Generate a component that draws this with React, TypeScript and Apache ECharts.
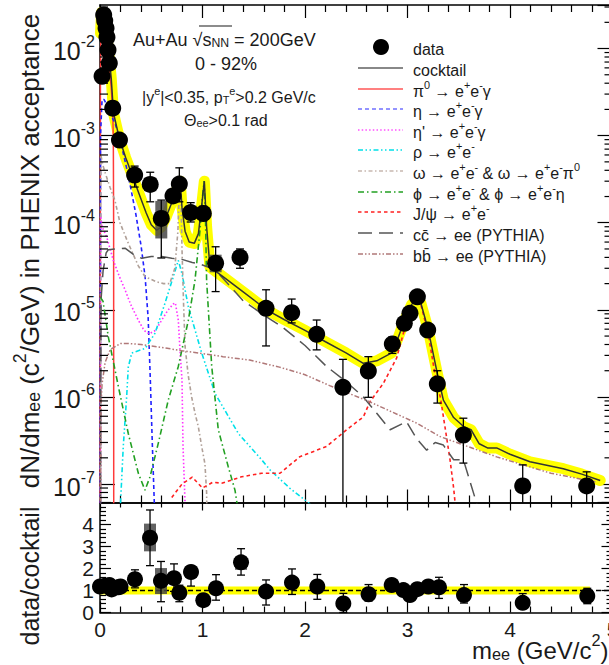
import React, { useEffect, useRef } from 'react';
import * as echarts from 'echarts';

const FONT = '"Liberation Sans", Arial, Helvetica, sans-serif';
const TXT = '#1a1a1a';

// ---------------- data ----------------
const dataX = [0.020, 0.036, 0.046, 0.059, 0.068, 0.078, 0.091, 0.124, 0.190, 0.338, 0.490, 0.598, 0.712, 0.774, 0.885, 1.008, 1.128, 1.366, 1.620, 1.870, 2.114, 2.370, 2.618, 2.852, 2.969, 3.024, 3.096, 3.197, 3.291, 3.545, 4.124, 4.748];
const dataY = [4.8e-3, 2.43e-2, 2.09e-2, 1.71e-2, 1.35e-2, 9.6e-3, 6.8e-3, 2.07e-3, 8.9e-4, 3.53e-4, 2.75e-4, 1.12e-4, 2.03e-4, 2.78e-4, 1.31e-4, 1.28e-4, 3.42e-5, 4.0e-5, 1.04e-5, 9.27e-6, 5.24e-6, 1.29e-6, 1.98e-6, 4.05e-6, 7.0e-6, 9.12e-6, 1.41e-5, 5.86e-6, 1.41e-6, 3.65e-7, 9.5e-8, 9.5e-8];
const dataErrLo = [4.3e-3, 2.33e-2, 2.0e-2, 1.63e-2, 1.28e-2, 9.1e-3, 6.4e-3, 1.97e-3, 8.5e-4, 2.57e-4, 1.74e-4, 3.94e-5, 1.8e-4, 1.74e-4, 1.02e-4, 1.05e-4, 1.62e-5, 3.0e-5, 3.85e-6, 7.08e-6, 3.47e-6, 1e-9, 9.9e-7, 3.16e-6, 6.3e-6, 8.4e-6, 1.33e-5, 5.4e-6, 8.5e-7, 1.74e-7, 1e-9, 1e-9];
const dataErrHi = [5.3e-3, 2.53e-2, 2.18e-2, 1.79e-2, 1.42e-2, 1.01e-2, 7.2e-3, 2.17e-3, 9.3e-4, 4.47e-4, 3.8e-4, 1.82e-4, 2.26e-4, 4.27e-4, 1.7e-4, 1.55e-4, 5.3e-5, 5.0e-5, 1.7e-5, 1.33e-5, 7.64e-6, 2.7e-6, 2.9e-6, 4.9e-6, 7.7e-6, 9.9e-6, 1.5e-5, 6.4e-6, 2.0e-6, 5.7e-7, 1.66e-7, 1.38e-7];
const sysX = [0.490, 0.598, 1.128, 1.366];
const sysLo = [2.3e-4, 6.6e-5, 2.7e-5, 3.5e-5];
const sysHi = [3.3e-4, 1.78e-4, 4.3e-5, 4.6e-5];

const cocktailX = [0.005, 0.015, 0.03, 0.05, 0.07, 0.09, 0.11, 0.125, 0.135, 0.16, 0.19, 0.25, 0.3, 0.378, 0.45, 0.5, 0.553, 0.6, 0.65, 0.7, 0.74, 0.765, 0.782, 0.8, 0.83, 0.87, 0.92, 0.96, 0.99, 1.018, 1.04, 1.073, 1.2, 1.4, 1.626, 1.8, 2.0, 2.114, 2.2, 2.4, 2.569, 2.7, 2.846, 2.9, 2.97, 3.04, 3.09, 3.13, 3.203, 3.285, 3.35, 3.45, 3.55, 3.62, 3.7, 3.78, 3.87, 4.0, 4.195, 4.52, 4.7, 4.88];
const cocktailY = [1.5e-2, 2.6e-2, 2.5e-2, 1.9e-2, 1.3e-2, 8.0e-3, 4.5e-3, 2.4e-3, 1.75e-3, 1.3e-3, 9.2e-4, 5.6e-4, 3.9e-4, 2.2e-4, 1.3e-4, 9.5e-5, 8.2e-5, 9.0e-5, 1.2e-4, 1.7e-4, 2.2e-4, 2.8e-4, 3.0e-4, 1.5e-4, 8.0e-5, 6.0e-5, 5.8e-5, 7.5e-5, 1.5e-4, 3.0e-4, 9.0e-5, 3.1e-5, 2.4e-5, 1.6e-5, 1.0e-5, 7.7e-6, 5.8e-6, 4.9e-6, 4.3e-6, 3.2e-6, 2.43e-6, 2.6e-6, 3.2e-6, 4.5e-6, 7.5e-6, 1.15e-5, 1.32e-5, 1.2e-5, 5.86e-6, 2.0e-6, 9.2e-7, 5.8e-7, 4.55e-7, 4.2e-7, 2.9e-7, 2.6e-7, 2.6e-7, 2.2e-7, 1.8e-7, 1.5e-7, 1.3e-7, 1.1e-7];

const pi0X = [0.002, 0.004, 0.008, 0.015, 0.03, 0.05, 0.07, 0.09, 0.11, 0.125, 0.13, 0.133, 0.1345];
const pi0Y = [1e-9, 4e-3, 1.6e-2, 2.4e-2, 2.3e-2, 1.7e-2, 1.1e-2, 6.5e-3, 3.5e-3, 1.8e-3, 9e-4, 1e-4, 1e-9];

const etaX = [0.002, 0.005, 0.02, 0.04, 0.07, 0.1, 0.15, 0.2, 0.25, 0.3, 0.35, 0.4, 0.44, 0.47, 0.49, 0.51, 0.53, 0.545];
const etaY = [1e-9, 1.0e-3, 2.6e-3, 2.6e-3, 2.2e-3, 1.8e-3, 1.35e-3, 8.5e-4, 4.8e-4, 2.5e-4, 1.25e-4, 5.5e-5, 2.4e-5, 8e-6, 1.7e-6, 3e-7, 6e-8, 1e-9];

const etapX = [0.003, 0.006, 0.02, 0.065, 0.13, 0.19, 0.244, 0.3, 0.374, 0.43, 0.478, 0.54, 0.602, 0.66, 0.715, 0.735, 0.764, 0.78, 0.8, 0.81, 0.83, 0.84];
const etapY = [1e-9, 1.2e-4, 9e-5, 6.9e-5, 3.7e-5, 2.4e-5, 1.7e-5, 1.15e-5, 7.6e-6, 5.8e-6, 5.3e-6, 5.8e-6, 7.6e-6, 9.8e-6, 1.17e-5, 1.2e-5, 7.6e-6, 3.5e-6, 1.56e-6, 2.7e-7, 6e-8, 1e-9];

const rhoX = [0.19, 0.2, 0.227, 0.26, 0.276, 0.31, 0.44, 0.537, 0.634, 0.715, 0.764, 0.8, 0.862, 0.992, 1.122, 1.35, 1.577, 1.66, 1.85, 2.08];
const rhoY = [1e-9, 6e-8, 2.7e-7, 1e-6, 2.2e-6, 3.2e-6, 3.6e-6, 5.4e-6, 1.19e-5, 2.4e-5, 3.7e-5, 2.6e-5, 1.08e-5, 3.2e-6, 1.1e-6, 3.8e-7, 1.9e-7, 1.45e-7, 9e-8, 5.5e-8];

const omegaX = [0.003, 0.008, 0.03, 0.052, 0.1, 0.146, 0.195, 0.276, 0.374, 0.44, 0.55, 0.62, 0.68, 0.73, 0.76, 0.775, 0.783, 0.79, 0.8, 0.815, 0.83, 0.86, 0.894, 0.927, 0.96, 0.992, 1.024, 1.04, 1.06];
const omegaY = [1e-9, 6e-4, 4.5e-4, 3.7e-4, 2.5e-4, 1.8e-4, 1.0e-4, 5.8e-5, 3.2e-5, 2.4e-5, 2.1e-5, 2.0e-5, 2.0e-5, 3.0e-5, 8e-5, 2.5e-4, 2.9e-4, 2.0e-4, 5e-5, 1.2e-5, 3.8e-6, 1.8e-6, 1.0e-6, 6.5e-7, 4.5e-7, 2.7e-7, 1.7e-7, 8e-8, 1e-9];

const phiX = [0.003, 0.03, 0.081, 0.179, 0.276, 0.374, 0.439, 0.488, 0.569, 0.666, 0.764, 0.862, 0.927, 0.976, 1.0, 1.016, 1.03, 1.04, 1.09, 1.154, 1.25, 1.317, 1.36];
const phiY = [1.4e-5, 1.25e-5, 4.9e-6, 1.32e-6, 3.8e-7, 1.33e-7, 8.5e-8, 1.21e-7, 2.95e-7, 9.2e-7, 2.24e-6, 7.6e-6, 2.2e-5, 8.3e-5, 2.0e-4, 3.0e-4, 1.0e-4, 2.2e-5, 2.24e-6, 4.2e-7, 1.6e-7, 8.5e-8, 4e-8];

const jpsiX = [0.7, 0.8, 0.9, 1.0, 1.1, 1.187, 1.38, 1.577, 1.756, 1.95, 2.21, 2.407, 2.569, 2.634, 2.764, 2.894, 2.96, 3.0, 3.057, 3.096, 3.13, 3.2, 3.28, 3.32, 3.366, 3.415, 3.45, 3.48];
const jpsiY = [7e-8, 1.0e-7, 1.2e-7, 9e-8, 1.05e-7, 1.02e-7, 1.21e-7, 1.33e-7, 1.33e-7, 2.06e-7, 2.7e-7, 4.2e-7, 5.9e-7, 8.8e-7, 1.43e-6, 2.8e-6, 5.4e-6, 7.5e-6, 1.25e-5, 1.3e-5, 1.15e-5, 5.5e-6, 1.5e-6, 1.0e-6, 4.5e-7, 1.9e-7, 9e-8, 4e-8];

const ccX = [0.003, 0.01, 0.03, 0.06, 0.081, 0.15, 0.244, 0.33, 0.407, 0.5, 0.602, 0.7, 0.8, 0.9, 0.992, 1.122, 1.4, 1.6, 1.79, 2.0, 2.21, 2.4, 2.569, 2.7, 2.83, 2.99, 3.09, 3.187, 3.27, 3.35, 3.45, 3.545, 3.675, 3.75];
const ccY = [1e-8, 1.3e-5, 2.8e-5, 4.5e-5, 4.9e-5, 5.0e-5, 5.1e-5, 4.3e-5, 3.9e-5, 4.1e-5, 4.1e-5, 3.9e-5, 3.8e-5, 3.5e-5, 3.3e-5, 2.9e-5, 1.26e-5, 8.7e-6, 6.2e-6, 3.9e-6, 2.24e-6, 1.5e-6, 1.0e-6, 6.5e-7, 4.2e-7, 5.2e-7, 3.3e-7, 2.45e-7, 3.0e-7, 2.8e-7, 1.9e-7, 1.9e-7, 6e-8, 3e-8];

const bbX = [0.003, 0.01, 0.02, 0.05, 0.1, 0.2, 0.276, 0.4, 0.6, 0.8, 1.0, 1.2, 1.46, 1.75, 2.0, 2.24, 2.63, 3.09, 3.32, 3.87, 4.4, 4.85];
const bbY = [1e-8, 8e-7, 1.4e-6, 2.5e-6, 3.5e-6, 4.1e-6, 4.1e-6, 4.0e-6, 3.7e-6, 3.4e-6, 3.15e-6, 2.9e-6, 2.65e-6, 2.2e-6, 1.8e-6, 1.35e-6, 8.8e-7, 5.0e-7, 3.5e-7, 2.05e-7, 1.33e-7, 1.05e-7];

const ratioX = [0.0, 0.049, 0.091, 0.114, 0.179, 0.2, 0.341, 0.488, 0.595, 0.722, 0.774, 0.888, 1.008, 1.132, 1.376, 1.62, 1.873, 2.12, 2.374, 2.62, 2.846, 2.96, 3.024, 3.096, 3.203, 3.307, 3.551, 4.124, 4.754];
const ratioY = [1.18, 1.22, 1.25, 1.05, 1.15, 1.18, 1.51, 3.4, 1.44, 1.56, 0.9, 1.84, 0.56, 1.1, 2.28, 0.95, 1.36, 1.18, 0.41, 0.83, 1.25, 1.02, 0.79, 1.06, 1.18, 1.15, 0.79, 0.44, 0.75];
const ratioErrLo = [1.1, 1.15, 1.18, 0.98, 1.08, 1.11, 1.12, 2.13, 0.49, 0.96, 0.49, 1.2, 0.45, 0.56, 1.7, 0.34, 0.82, 0.6, 0.0, 0.52, 1.15, 0.95, 0.72, 1.0, 1.1, 0.64, 0.43, 0.3, 0.4];
const ratioErrHi = [1.26, 1.29, 1.32, 1.12, 1.22, 1.25, 1.94, 4.66, 2.32, 2.21, 1.24, 2.12, 0.67, 1.72, 2.9, 1.48, 1.98, 1.73, 0.87, 1.27, 1.35, 1.09, 0.86, 1.12, 1.26, 1.6, 1.27, 0.86, 1.1];
const ratioSysX = [0.488, 0.595, 0.888, 1.376];
const ratioSysLo = [2.78, 0.84, 1.58, 1.94];
const ratioSysHi = [4.04, 2.02, 2.08, 2.55];
const ratioBandX = [0.0, 4.78];
const ratioBandY = [1, 1];
const unityX = [0, 5];
const unityY = [1, 1];

const xTicks = [0, 1, 2, 3, 4, 5];
const yTickExps = [-7, -6, -5, -4, -3, -2];
const ratioTicks = [0, 1, 2, 3, 4];
const minorMantissas = [2, 3, 4, 5, 6, 7, 8, 9];

const legendLabels = [
  'data',
  'cocktail',
  'π^{0} → e^{+}e^{-}γ',
  'η → e^{+}e^{-}γ',
  "η' → e^{+}e^{-}γ",
  'ρ → e^{+}e^{-}',
  'ω → e^{+}e^{-} & ω → e^{+}e^{-}π^{0}',
  'ϕ → e^{+}e^{-} & ϕ → e^{+}e^{-}η',
  'J/ψ → e^{+}e^{-}',
  'cc̄ → ee (PYTHIA)',
  'bb̄ → ee (PYTHIA)',
];

// ---------------- styles ----------------
const YMIN = Math.pow(10, -7.212);
const YMAX = Math.pow(10, -1.5);
const GL = 100, GT = 5, GW = 512.5, H1 = 497.5, H2 = 110;

const compStyles: Record<string, { color: string; dash: any; width: number }> = {
  cocktail: { color: '#333333', dash: 'solid', width: 1.5 },
  pi0: { color: '#ff3a3a', dash: 'solid', width: 1.5 },
  eta: { color: '#2020ff', dash: [4, 3], width: 1.6 },
  etap: { color: '#ff30ff', dash: [1.5, 2.2], width: 1.6 },
  rho: { color: '#00e0e8', dash: [5, 2.5, 1.5, 2.5, 1.5, 2.5], width: 1.6 },
  omega: { color: '#b0a098', dash: [4, 2.5, 1.5, 2.5], width: 1.6 },
  phi: { color: '#22a022', dash: [6, 3, 1.5, 3], width: 1.6 },
  jpsi: { color: '#ff2020', dash: [3.5, 3], width: 1.6 },
  cc: { color: '#555555', dash: [14, 7], width: 1.5 },
  bb: { color: '#b07878', dash: [5, 2, 1.5, 2, 1.5, 2], width: 1.5 },
};
const legendStyleKeys = ['data', 'cocktailLeg', 'pi0Leg', 'etaLeg', 'etapLeg', 'rho', 'omegaLeg', 'phi', 'jpsi', 'cc', 'bb'];
const legendStyles: Record<string, { color: string; dash: any; width: number }> = {
  ...compStyles,
  cocktailLeg: { color: '#888888', dash: 'solid', width: 2.2 },
  pi0Leg: { color: '#ff8080', dash: 'solid', width: 2.2 },
  etaLeg: { color: '#7070ff', dash: [4, 3], width: 1.6 },
  etapLeg: { color: '#ff50ff', dash: [1.5, 2.2], width: 1.6 },
  omegaLeg: { color: '#c8b8b0', dash: [4, 2.5, 1.5, 2.5], width: 1.6 },
};

const zip = (xs: number[], ys: number[]) => xs.map((x, i) => [x, ys[i]]);

function toRich(s: string): string {
  let out = '';
  let buf = '';
  let i = 0;
  while (i < s.length) {
    if ((s[i] === '^' || s[i] === '_') && s[i + 1] === '{') {
      if (buf) { out += `{n|${buf}}`; buf = ''; }
      const end = s.indexOf('}', i);
      out += `{${s[i] === '^' ? 'sup' : 'sub'}|${s.slice(i + 2, end)}}`;
      i = end + 1;
    } else {
      buf += s[i];
      i++;
    }
  }
  if (buf) out += `{n|${buf}}`;
  return out;
}

function richStyles(size: number, color = TXT) {
  return {
    n: { fontSize: size, lineHeight: size * 1.25, verticalAlign: 'bottom', fontFamily: FONT, fill: color, color },
    sup: { fontSize: size * 0.68, lineHeight: size * 0.68, verticalAlign: 'top', fontFamily: FONT, fill: color, color },
    sub: { fontSize: size * 0.68, lineHeight: size * 0.7, verticalAlign: 'bottom', fontFamily: FONT, fill: color, color },
  };
}

function textEl(s: string, x: number, y: number, size: number, align = 'left', rotation = 0) {
  return {
    type: 'text',
    x, y, rotation,
    silent: true,
    style: {
      text: toRich(s),
      rich: richStyles(size),
      fill: TXT,
      fontSize: size,
      fontFamily: FONT,
      textAlign: align,
      textVerticalAlign: 'middle',
      verticalAlign: 'middle',
    },
  };
}

function lineSeries(name: string, xs: number[], ys: number[], st: { color: string; dash: any; width: number }, z = 3) {
  return {
    type: 'line', name, xAxisIndex: 0, yAxisIndex: 0,
    data: zip(xs, ys), showSymbol: false, symbol: 'none', smooth: false, clip: true, z,
    lineStyle: { color: st.color, type: st.dash, width: st.width },
    silent: true,
  };
}

function errorBarSeries(xs: number[], lo: number[], hi: number[], xi: number, yi: number, cap: number) {
  return {
    type: 'custom', xAxisIndex: xi, yAxisIndex: yi, silent: true, z: 8,
    data: xs.map((x, i) => [x, lo[i], hi[i]]),
    encode: { x: 0, y: [1, 2] },
    renderItem: (params: any, api: any) => {
      const x = api.value(0);
      const pLo = api.coord([x, api.value(1)]);
      const pHi = api.coord([x, api.value(2)]);
      const cs = params.coordSys;
      const bottom = cs.y + cs.height;
      const top = cs.y;
      let yLo = pLo[1];
      let yHi = pHi[1];
      let capLo = true;
      let capHi = true;
      if (!isFinite(yLo) || yLo > bottom) { yLo = bottom; capLo = false; }
      if (yHi < top) { yHi = top; capHi = false; }
      const px = pLo[0];
      const st = { stroke: '#000', lineWidth: 1.3 };
      const ch: any[] = [{ type: 'line', shape: { x1: px, y1: yLo, x2: px, y2: yHi }, style: st }];
      if (capLo) ch.push({ type: 'line', shape: { x1: px - cap, y1: yLo, x2: px + cap, y2: yLo }, style: st });
      if (capHi) ch.push({ type: 'line', shape: { x1: px - cap, y1: yHi, x2: px + cap, y2: yHi }, style: st });
      return { type: 'group', children: ch };
    },
  };
}

function sysBoxSeries(xs: number[], lo: number[], hi: number[], xi: number, yi: number, half: number) {
  return {
    type: 'custom', xAxisIndex: xi, yAxisIndex: yi, silent: true, z: 7,
    data: xs.map((x, i) => [x, lo[i], hi[i]]),
    encode: { x: 0, y: [1, 2] },
    renderItem: (params: any, api: any) => {
      const x = api.value(0);
      const pLo = api.coord([x, api.value(1)]);
      const pHi = api.coord([x, api.value(2)]);
      return {
        type: 'rect',
        shape: { x: pLo[0] - half, y: pHi[1], width: half * 2, height: pLo[1] - pHi[1] },
        style: { fill: 'rgba(70,70,70,0.85)' },
      };
    },
  };
}

function xAxis(gi: number, pos: string, showLabel: boolean, major: number, minor: number) {
  return {
    type: 'value', gridIndex: gi, position: pos, min: xTicks[0], max: xTicks[xTicks.length - 1], interval: 1,
    axisLine: { show: true, onZero: false, lineStyle: { color: '#000', width: 1.5 } },
    axisTick: { show: true, inside: true, length: major, lineStyle: { color: '#000', width: 1.2 } },
    minorTick: { show: true, splitNumber: 5, length: minor, lineStyle: { color: '#000', width: 1.2 } },
    splitLine: { show: false },
    axisLabel: {
      show: showLabel, margin: 7, fontSize: 21, lineHeight: 20, fontFamily: FONT, color: TXT,
      formatter: (v: number) => (xTicks.includes(Math.round(v)) ? String(Math.round(v)) : ''),
    },
  };
}

function logYAxis(pos: string, showLabel: boolean) {
  return {
    type: 'log', logBase: 10, gridIndex: 0, position: pos, min: YMIN, max: YMAX,
    axisLine: { show: true, onZero: false, lineStyle: { color: '#000', width: 1.5 } },
    axisTick: { show: true, inside: true, length: 15, lineStyle: { color: '#000', width: 1.2 } },
    minorTick: { show: false },
    splitLine: { show: false },
    axisLabel: {
      show: showLabel, margin: 5, showMinLabel: false, showMaxLabel: false,
      formatter: (v: number) => {
        const l = Math.log10(v);
        const e = Math.round(l);
        if (Math.abs(l - e) > 1e-3 || !yTickExps.includes(e)) return '';
        return `{b|10}{s|${e}}`;
      },
      rich: {
        b: { fontSize: 25, lineHeight: 30, verticalAlign: 'bottom', fontFamily: FONT, color: TXT },
        s: { fontSize: 16, lineHeight: 16, verticalAlign: 'top', fontFamily: FONT, color: TXT },
      },
    },
  };
}

function ratioYAxis(pos: string, showLabel: boolean) {
  return {
    type: 'value', gridIndex: 1, position: pos, min: 0, max: 5, interval: 1,
    axisLine: { show: true, onZero: false, lineStyle: { color: '#000', width: 1.5 } },
    axisTick: { show: true, inside: true, length: 11, lineStyle: { color: '#000', width: 1.2 } },
    minorTick: { show: true, splitNumber: 5, length: 6, lineStyle: { color: '#000', width: 1.2 } },
    splitLine: { show: false },
    axisLabel: {
      show: showLabel, margin: 6, fontSize: 21, lineHeight: 18, fontFamily: FONT, color: TXT, showMaxLabel: false,
      formatter: (v: number) => (ratioTicks.includes(Math.round(v)) && Math.abs(v - Math.round(v)) < 1e-6 ? String(Math.round(v)) : ''),
    },
  };
}

export default function App() {
  const ref = useRef<HTMLDivElement>(null);
  useEffect(() => {
    if (!ref.current) return;
    const chart = echarts.init(ref.current, undefined, { renderer: 'svg' });

    const logMinor: number[][] = [];
    for (let d = -8; d <= -2; d++) {
      for (const m of minorMantissas) {
        const v = m * Math.pow(10, d);
        if (v > YMIN && v < YMAX) logMinor.push([0, v]);
      }
    }

    const legendRowsY = [47, 68, 89, 109, 130, 150, 171, 192, 212, 233, 254];
    const legendGraphics: any[] = [];
    legendLabels.forEach((lab, i) => {
      const y = legendRowsY[i];
      const key = legendStyleKeys[i];
      if (key === 'data') {
        legendGraphics.push({ type: 'circle', silent: true, shape: { cx: 381, cy: y, r: 8 }, style: { fill: '#000' } });
      } else {
        const st = legendStyles[key];
        legendGraphics.push({
          type: 'line', silent: true,
          shape: { x1: 358, y1: y, x2: 403, y2: y },
          style: { stroke: st.color, lineWidth: st.width, lineDash: st.dash === 'solid' ? null : st.dash },
        });
      }
      legendGraphics.push(textEl(lab, 413, y, 16));
    });

    const option: any = {
      animation: false,
      backgroundColor: '#ffffff',
      grid: [
        { left: GL, top: GT, width: GW, height: H1 },
        { left: GL, top: GT + H1, width: GW, height: H2 },
      ],
      xAxis: [
        xAxis(0, 'bottom', false, 13, 7),
        xAxis(0, 'top', false, 13, 7),
        xAxis(1, 'bottom', true, 11, 6),
        xAxis(1, 'top', false, 8, 5),
      ],
      yAxis: [logYAxis('left', true), logYAxis('right', false), ratioYAxis('left', true), ratioYAxis('right', false)],
      series: [
        {
          type: 'line', xAxisIndex: 0, yAxisIndex: 0, data: zip(cocktailX, cocktailY), showSymbol: false, symbol: 'none',
          lineStyle: { color: '#ffff00', width: 11, cap: 'round', join: 'round' }, z: 1, silent: true, clip: true,
        },
        lineSeries('pi0', pi0X, pi0Y, compStyles.pi0),
        lineSeries('eta', etaX, etaY, compStyles.eta),
        lineSeries('etap', etapX, etapY, compStyles.etap),
        lineSeries('rho', rhoX, rhoY, compStyles.rho),
        lineSeries('omega', omegaX, omegaY, compStyles.omega),
        lineSeries('phi', phiX, phiY, compStyles.phi),
        lineSeries('jpsi', jpsiX, jpsiY, compStyles.jpsi),
        lineSeries('cc', ccX, ccY, compStyles.cc),
        lineSeries('bb', bbX, bbY, compStyles.bb),
        lineSeries('cocktail', cocktailX, cocktailY, compStyles.cocktail, 4),
        sysBoxSeries(sysX, sysLo, sysHi, 0, 0, 6),
        errorBarSeries(dataX, dataErrLo, dataErrHi, 0, 0, 4),
        {
          type: 'scatter', xAxisIndex: 0, yAxisIndex: 0, data: zip(dataX, dataY), symbol: 'circle', symbolSize: 17,
          itemStyle: { color: '#000', opacity: 1 }, z: 9, silent: true, clip: false,
        },
        {
          type: 'custom', xAxisIndex: 0, yAxisIndex: 0, data: logMinor, silent: true, z: 10,
          renderItem: (params: any, api: any) => {
            const v = api.value(1);
            const pL = api.coord([xTicks[0], v]);
            const pR = api.coord([xTicks[xTicks.length - 1], v]);
            const st = { stroke: '#000', lineWidth: 1.2 };
            return {
              type: 'group',
              children: [
                { type: 'line', shape: { x1: pL[0], y1: pL[1], x2: pL[0] + 8, y2: pL[1] }, style: st },
                { type: 'line', shape: { x1: pR[0] - 8, y1: pR[1], x2: pR[0], y2: pR[1] }, style: st },
              ],
            };
          },
        },
        {
          type: 'line', xAxisIndex: 2, yAxisIndex: 2, data: zip(ratioBandX, ratioBandY), showSymbol: false, symbol: 'none',
          lineStyle: { color: '#ffff00', width: 8 }, z: 1, silent: true,
        },
        {
          type: 'line', xAxisIndex: 2, yAxisIndex: 2, data: zip(unityX, unityY), showSymbol: false, symbol: 'none',
          lineStyle: { color: '#000', width: 1.5, type: [5, 3] }, z: 2, silent: true,
        },
        sysBoxSeries(ratioSysX, ratioSysLo, ratioSysHi, 2, 2, 6),
        errorBarSeries(ratioX, ratioErrLo, ratioErrHi, 2, 2, 4),
        {
          type: 'scatter', xAxisIndex: 2, yAxisIndex: 2, data: zip(ratioX, ratioY), symbol: 'circle', symbolSize: 16,
          itemStyle: { color: '#000', opacity: 1 }, z: 9, silent: true, clip: false,
        },
      ],
      graphic: [
        textEl('Au+Au √s_{NN} = 200GeV', 133, 38, 18),
        { type: 'line', silent: true, shape: { x1: 199, y1: 26, x2: 232, y2: 26 }, style: { stroke: TXT, lineWidth: 1.2 } },
        textEl('0 - 92%', 226, 62, 18, 'center'),
        textEl('|y^{e}|<0.35, p_{T}^{e}>0.2 GeV/c', 142, 95, 16),
        textEl('Θ_{ee}>0.1 rad', 184, 118, 16),
        textEl('dN/dm_{ee} (c^{2}/GeV) in PHENIX acceptance', 27, 251, 26, 'center', Math.PI / 2),
        textEl('data/cocktail', 27, 576, 25, 'center', Math.PI / 2),
        textEl('m_{ee} (GeV/c^{2})', 472, 647, 24, 'left'),
        ...legendGraphics,
      ],
    };
    chart.setOption(option);
    return () => chart.dispose();
  }, []);

  return (
    <div
      ref={ref}
      style={{ position: 'fixed', left: 0, top: 0, width: 625, height: 665, background: '#fff' }}
    />
  );
}
